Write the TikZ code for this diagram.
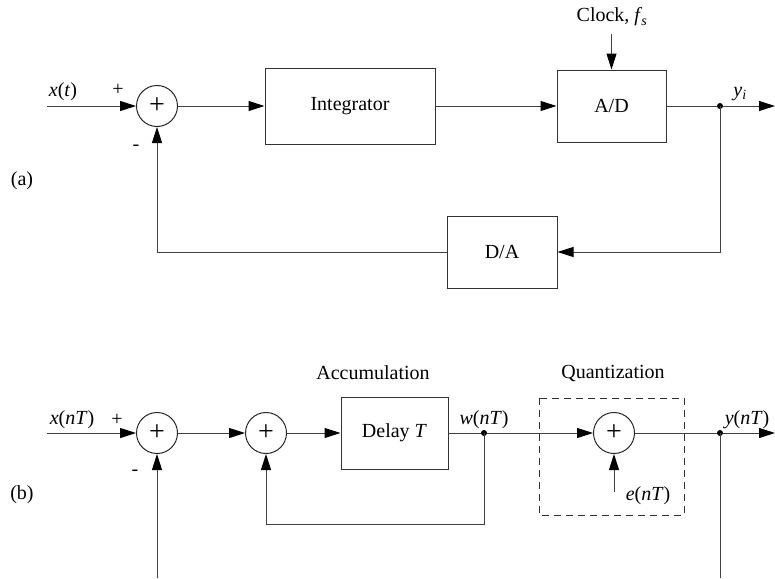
\documentclass[tikz,border=0pt]{standalone}
\usepackage{fontspec}
\setmainfont{Liberation Serif}
\usetikzlibrary{arrows.meta}

\begin{document}
\begin{tikzpicture}[x=1pt,y=-1pt,
  font=\fontsize{20}{23}\selectfont,
  wire/.style={line width=1pt,draw=black!75},
  sig/.style={wire,-{Triangle[length=16pt,width=10pt,color=black]}},
  block/.style={draw=black!80,line width=1pt,rectangle,inner sep=0pt,align=center},
  summer/.style={draw=black!85,line width=1pt,circle,minimum size=41pt,inner sep=0pt,
    font=\fontsize{28}{28}\selectfont},
  junction/.style={circle,fill=black,inner sep=0pt,minimum size=6pt},
  lbl/.style={inner sep=0pt}]
\useasboundingbox (0,0) rectangle (775,578);

% ---------- (a) continuous-time loop ----------
\coordinate (xin) at (47,106);
\node[summer] (s1) at (157,106) {+};
\node[block,minimum width=170pt,minimum height=76pt] (int) at (350,106) {Integrator};
\node[block,minimum width=109pt,minimum height=72pt] (ad) at (611.5,106) {A/D};
\coordinate (clk) at (611.5,34);
\node[junction] (ja) at (720,106) {};
\coordinate (yout) at (775,106);
\node[block,minimum width=110pt,minimum height=72pt] (da) at (502,252) {D/A};
\coordinate (ca) at (720,252);
\coordinate (cb) at (157,252);

\node[lbl] (lxt) at (63,92) {\textit{x}(\textit{t})};
\node[lbl] (lpa) at (118,90) {+};
\node[lbl] (lma) at (136,148) {-};
\node[lbl] (lclk) at (612,17) {Clock, \textit{f}\kern-1pt\textsubscript{\textit{s}}};
\node[lbl] (lyi) at (740,94) {\textit{y}\textsubscript{\textit{i}}};
\node[lbl] (la) at (22,181) {(a)};

\draw[sig] (xin) -- (s1);
\draw[sig] (s1) -- (int);
\draw[sig] (int) -- (ad);
\draw[sig] (clk) -- (ad);
\draw[wire] (ad) -- (ja);
\draw[sig] (ja) -- (yout);
\draw[sig] (ja.center) -- (ca) -- (da);
\draw[sig] (da) -- (cb) -- (s1);

% ---------- (b) discrete-time model ----------
\coordinate (xnin) at (47,433);
\node[summer] (b1) at (157,433) {+};
\node[summer] (b2) at (266,433) {+};
\node[block,minimum width=107pt,minimum height=72pt] (dly) at (394.5,433) {Delay \textit{T}};
\node[junction] (jw) at (484,433) {};
\node[summer] (b3) at (614,433) {+};
\node[junction] (jy) at (720,433) {};
\coordinate (ynout) at (775,433);
\coordinate (fbin) at (157,578);
\coordinate (fbout) at (720,578);
\coordinate (la1) at (484,524);
\coordinate (la2) at (266,524);
\coordinate (ein) at (614,492);
\draw[dashed,line width=1pt,draw=black!80,dash pattern=on 7pt off 5pt]
  (539,398) rectangle (684,515);

\node[lbl] (lxn) at (72,420) {\textit{x}(\textit{nT})};
\node[lbl] (lpb) at (117,420) {+};
\node[lbl] (lmb) at (135,473) {-};
\node[lbl] (lacc) at (373,373) {Accumulation};
\node[lbl] (lq) at (613,373) {Quantization};
\node[lbl] (lw) at (484,420) {\textit{w}(\textit{nT})};
\node[lbl] (ly) at (747,420) {\textit{y}(\textit{nT})};
\node[lbl] (le) at (648,496) {\textit{e}(\textit{nT})};
\node[lbl] (lb) at (22,495) {(b)};

\draw[sig] (xnin) -- (b1);
\draw[sig] (b1) -- (b2);
\draw[sig] (b2) -- (dly);
\draw[wire] (dly) -- (jw);
\draw[sig] (jw) -- (b3);
\draw[sig] (jw.center) -- (la1) -- (la2) -- (b2);
\draw[sig] (ein) -- (b3);
\draw[wire] (b3) -- (jy);
\draw[sig] (jy) -- (ynout);
\draw[wire] (jy.center) -- (fbout);
\draw[sig] (fbin) -- (b1);
\end{tikzpicture}
\end{document}
